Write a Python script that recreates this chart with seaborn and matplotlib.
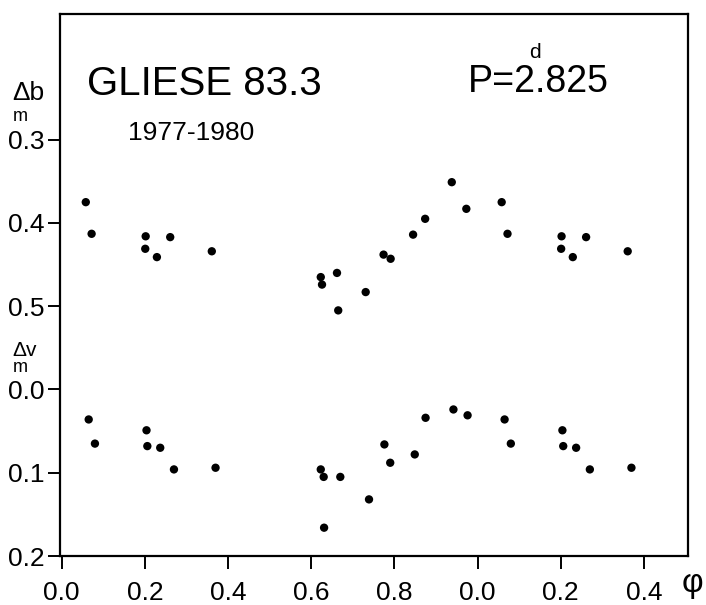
import pandas as pd
import seaborn as sns
import matplotlib.pyplot as plt

# phases and magnitude differences (one cycle)
phase_b = [0.058, 0.072, 0.202, 0.201, 0.229, 0.261, 0.361, 0.623, 0.626,
           0.662, 0.665, 0.731, 0.774, 0.791, 0.845, 0.874, 0.938, 0.973]
delta_b = [0.375, 0.413, 0.416, 0.431, 0.441, 0.417, 0.434, 0.465, 0.474,
           0.460, 0.505, 0.483, 0.438, 0.443, 0.414, 0.395, 0.351, 0.383]

phase_v = [0.065, 0.080, 0.204, 0.206, 0.237, 0.270, 0.370, 0.623, 0.630,
           0.631, 0.670, 0.739, 0.776, 0.790, 0.849, 0.875, 0.942, 0.976]
delta_v = [0.036, 0.065, 0.049, 0.068, 0.070, 0.096, 0.094, 0.096, 0.105,
           0.166, 0.105, 0.132, 0.066, 0.088, 0.078, 0.034, 0.024, 0.031]

x_ticks = [0.0, 0.2, 0.4, 0.6, 0.8, 1.0, 1.2, 1.4]
x_labels = ['0.0', '0.2', '0.4', '0.6', '0.8', '0.0', '0.2', '0.4']
y_labels = ['0.3', '0.4', '0.5', '0.0', '0.1', '0.2']

B_SHIFT = 0.6   # b curve drawn 0.6 mag above the v curve on one axis


def extend(phase, mag, shift=0.0):
    # the light curve is repeated for phases up to 0.4 of the next cycle
    df = pd.DataFrame({'phase': phase, 'mag': [m - shift for m in mag]})
    extra = df[df['phase'] < 0.4].copy()
    extra['phase'] += 1.0
    return pd.concat([df, extra], ignore_index=True)


db = extend(phase_b, delta_b, B_SHIFT)
dv = extend(phase_v, delta_v)

sns.set_style('ticks')
plt.rcParams['font.family'] = ['Liberation Sans', 'DejaVu Sans']
plt.rcParams['text.color'] = 'black'

fig = plt.figure(figsize=(7.06, 6.05), dpi=100)
ax = fig.add_axes([60 / 706, 49 / 605, 628 / 706, 542 / 605])

sns.scatterplot(data=db, x='phase', y='mag', color='black', s=36,
                edgecolor='none', ax=ax)
sns.scatterplot(data=dv, x='phase', y='mag', color='black', s=36,
                edgecolor='none', ax=ax)

ax.set_xlim(-0.004, 1.506)
ax.set_ylim(0.2, -0.451)
ax.set_xticks(x_ticks)
ax.set_xticklabels(x_labels)
ax.set_yticks([-0.3, -0.2, -0.1, 0.0, 0.1, 0.2])
ax.set_yticklabels(y_labels)
ax.set_xlabel('')
ax.set_ylabel('')

for sp in ax.spines.values():
    sp.set_visible(True)
    sp.set_linewidth(1.6)
    sp.set_color('black')
ax.tick_params(axis='both', direction='out', length=9, width=1.4,
               labelsize=19, colors='black')
ax.tick_params(axis='x', pad=9)
ax.tick_params(axis='y', pad=2)

W, H = 706, 605


def ftext(x, y, s, **kw):
    fig.text(x / W, 1 - y / H, s, **kw)


ftext(87, 95, 'GLIESE 83.3', fontsize=29, va='baseline', ha='left')
ftext(128, 140, '1977-1980', fontsize=19, va='baseline', ha='left')
ftext(468, 92, 'P=2.825', fontsize=27, va='baseline', ha='left')
ftext(535, 58, 'd', fontsize=15, va='baseline', ha='center')

ftext(12, 100, 'Δb', fontsize=19, va='baseline', ha='left')
ftext(13, 121, 'm', fontsize=13, va='baseline', ha='left')
ftext(12, 356, 'Δv', fontsize=15, va='baseline', ha='left')
ftext(13, 372, 'm', fontsize=13, va='baseline', ha='left')

ftext(692, 592, 'φ', fontsize=24, va='baseline', ha='center')

fig.savefig('out.png', dpi=100)
